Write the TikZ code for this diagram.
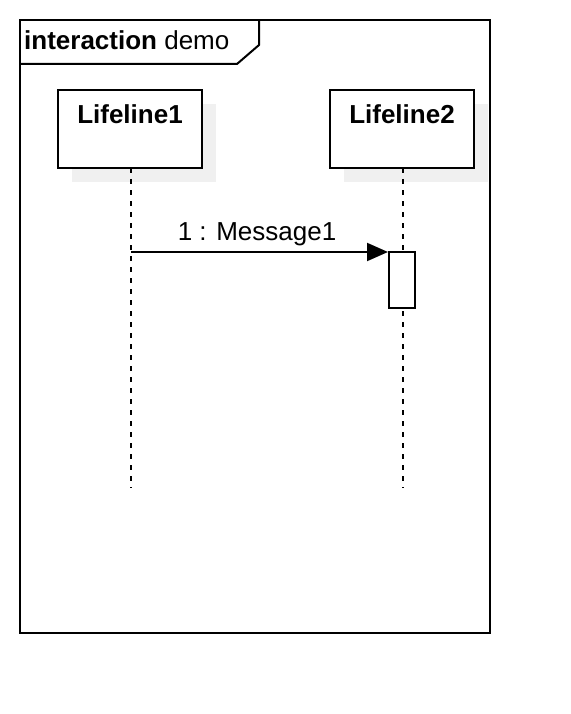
\documentclass[tikz,border=0pt]{standalone}
\usepackage{fontspec}
\setmainfont{Liberation Sans}
\usetikzlibrary{arrows.meta}
\begin{document}
\begin{tikzpicture}[x=1pt,y=-1pt,
  txt/.style={font=\fontsize{26}{30}\selectfont, inner sep=0pt, anchor=base},
  shadowbox/.style={fill=black!6, draw=none},
  lifebox/.style={draw=black, line width=2pt, fill=white},
  lifeline/.style={draw=black, line width=2pt, dash pattern=on 5pt off 6pt},
  msg/.style={draw=black, line width=2pt, -{Triangle[length=21pt,width=18pt]}},
  frameline/.style={draw=black, line width=2pt}]
\useasboundingbox (0,0) rectangle (570,714);
% frame
\draw[frameline] (20,20) rectangle (490,633);
\draw[frameline] (20,64) -- (237,64) -- (259,45) -- (259,20);
\node[txt, anchor=base west] (framelabel) at (24,50) {\textbf{interaction} demo};
% shadows
\fill[shadowbox] (72,104) rectangle (216,182);
\fill[shadowbox] (344,104) rectangle (488,182);
% lifeline heads
\path[lifebox] (58,90) rectangle (202,168);
\path[lifebox] (330,90) rectangle (474,168);
\node[txt, font=\fontsize{26}{30}\selectfont\bfseries] (l1) at (130,124) {Lifeline1};
\node[txt, font=\fontsize{26}{30}\selectfont\bfseries] (l2) at (402,124) {Lifeline2};
\coordinate (l1top) at (131,168);
\coordinate (l1bot) at (131,488);
\coordinate (l2top) at (403,168);
\coordinate (l2bot) at (403,488);
\draw[lifeline] (l1top) -- (l1bot);
\draw[lifeline] (l2top) -- (l2bot);
% activation
\node[draw=black, line width=2pt, fill=white, minimum width=26pt, minimum height=56pt, inner sep=0pt, anchor=north west] (act) at (388,251) {};
\coordinate (msgstart) at (131,252);
\draw[msg] (msgstart) -- (act.north west |- msgstart);
\node[txt] (msglabel) at (257,240) {1 : Message1};
\end{tikzpicture}
\end{document}
